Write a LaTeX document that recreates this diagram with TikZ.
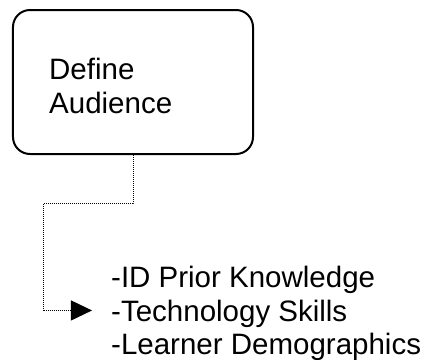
\documentclass[tikz,border=0pt]{standalone}
\usepackage{fontspec}
\setmainfont{Liberation Sans}
\usetikzlibrary{arrows.meta}
\tikzset{
  boxstyle/.style={draw=black, line width=2bp, rounded corners=17bp, minimum width=240bp, minimum height=144bp, inner sep=0pt},
  txt/.style={inner sep=0pt, align=left, font=\fontsize{29.5bp}{33.5bp}\selectfont},
  conn/.style={draw=black, line width=1bp, dash pattern=on 1bp off 1bp, -{Triangle[length=21bp,width=20bp]}}
}
\begin{document}
\begin{tikzpicture}[x=1bp, y=-1bp]
\useasboundingbox (0,0) rectangle (422,360);
\node[boxstyle] (box) at (133,82) {};
\node[txt, anchor=north west] (lbl) at (49,58) {Define\\Audience};
\node[txt, anchor=north west] (list) at (111,266) {-ID Prior Knowledge\\-Technology Skills\\-Learner Demographics};
\draw[conn, shorten >=19bp] (box.south) -- ++(0,48) -| ([xshift=-67bp,yshift=3bp]list.west) -- ([yshift=3bp]list.west);
\end{tikzpicture}
\end{document}
